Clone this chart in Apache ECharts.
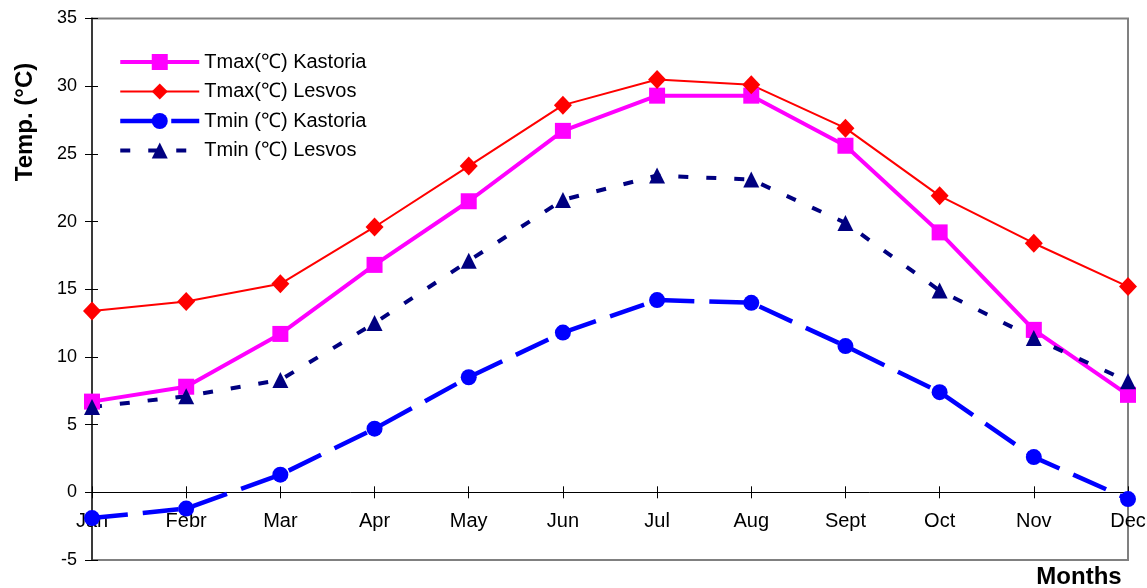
<!DOCTYPE html>
<html>
<head>
<meta charset="utf-8">
<script src="https://cdn.jsdelivr.net/npm/echarts@6/dist/echarts.min.js"></script>
<style>
html,body{margin:0;padding:0;background:#fff;}
#chart{width:1147px;height:588px;}
</style>
</head>
<body>
<div id="chart"></div>
<script>
var months = ['Jan','Febr','Mar','Apr','May','Jun','Jul','Aug','Sept','Oct','Nov','Dec'];
var tmaxKastoria = [6.7, 7.8, 11.7, 16.8, 21.5, 26.7, 29.3, 29.3, 25.6, 19.2, 12.0, 7.2];
var tmaxLesvos   = [13.4, 14.1, 15.4, 19.6, 24.1, 28.6, 30.5, 30.1, 26.9, 21.9, 18.4, 15.2];
var tminKastoria = [-1.9, -1.2, 1.3, 4.7, 8.5, 11.8, 14.2, 14.0, 10.8, 7.4, 2.6, -0.5];
var tminLesvos   = [6.3, 7.1, 8.3, 12.5, 17.1, 21.6, 23.4, 23.1, 19.9, 14.9, 11.4, 8.2];
var seriesNames = ['Tmax(\u2103) Kastoria', 'Tmax(\u2103) Lesvos', 'Tmin (\u2103) Kastoria', 'Tmin (\u2103) Lesvos'];
var yMin = -5, yMax = 35, yStep = 5;
var yTitle = 'Temp. (\u00B0C)';
var xTitle = 'Months';

var FONT = 'Liberation Sans, Arial, sans-serif';
var chart = echarts.init(document.getElementById('chart'), null, {renderer: 'canvas'});

var gridTop = 18.5, gridBottom = 28, H = 588;
var gridHeight = H - gridTop - gridBottom;
// x axis crosses the value axis at 0: shift it up from the grid bottom
var zeroOffset = -gridHeight * (0 - yMin) / (yMax - yMin);

var yAxisBase = {
  type: 'value', min: yMin, max: yMax, interval: yStep, position: 'left',
  splitLine: {show: false}
};
var xAxisBase = {
  type: 'category', data: months, boundaryGap: false, position: 'bottom', offset: zeroOffset,
  splitLine: {show: false}
};

var styles = [
  {color: '#FF00FF', width: 4, type: 'solid', symbol: 'rect', size: 16},
  {color: '#FF0000', width: 2, type: 'solid', symbol: 'diamond', size: [18, 19]},
  {color: '#0000FF', width: 4.5, type: [36, 15], symbol: 'circle', size: 16},
  {color: '#000080', width: 4, type: [10, 18], symbol: 'triangle', size: 16}
];
var values = [tmaxKastoria, tmaxLesvos, tminKastoria, tminLesvos];

chart.setOption({
  backgroundColor: '#ffffff',
  animation: false,
  grid: {left: 92, right: 19, top: gridTop, bottom: gridBottom, outerBoundsMode: 'none', containLabel: false,
    show: true, borderColor: '#808080', borderWidth: 2, backgroundColor: 'transparent'},
  legend: {
    left: 113, top: 47, orient: 'vertical', itemWidth: 79, itemHeight: 20, itemGap: 9.5,
    selectedMode: false,
    textStyle: {fontSize: 20, color: '#000', fontFamily: FONT},
    data: seriesNames.map(function (n, i) {
      return {name: n, lineStyle: {color: styles[i].color, width: styles[i].width, type: styles[i].type}};
    })
  },
  xAxis: [
    Object.assign({}, xAxisBase, {
      axisLine: {show: true, onZero: false, lineStyle: {color: '#000', width: 1}},
      axisTick: {show: true, inside: false, length: 6, lineStyle: {color: '#000', width: 1}},
      axisLabel: {show: true, interval: 0, margin: 19, fontSize: 20, color: '#000', fontFamily: FONT}
    }),
    Object.assign({}, xAxisBase, {
      axisLine: {show: false, onZero: false},
      axisTick: {show: true, inside: true, length: 6, lineStyle: {color: '#000', width: 1}},
      axisLabel: {show: false}
    })
  ],
  yAxis: [
    Object.assign({}, yAxisBase, {
      axisLine: {show: true, lineStyle: {color: '#3a3a3a', width: 2}},
      axisTick: {show: true, inside: false, length: 7, lineStyle: {color: '#000', width: 1}},
      axisLabel: {show: true, margin: 15, fontSize: 18, color: '#000', fontFamily: FONT}
    }),
    Object.assign({}, yAxisBase, {
      axisLine: {show: false},
      axisTick: {show: true, inside: true, length: 6, lineStyle: {color: '#000', width: 1}},
      axisLabel: {show: false}
    })
  ],
  graphic: [
    {type: 'text', x: 25, y: 122, rotation: Math.PI / 2,
      style: {text: yTitle, font: 'bold 24px ' + FONT, fill: '#000', textAlign: 'center', textVerticalAlign: 'middle', align: 'center', verticalAlign: 'middle'}},
    {type: 'text', x: 1079, y: 577,
      style: {text: xTitle, font: 'bold 24px ' + FONT, fill: '#000', textAlign: 'center', textVerticalAlign: 'middle', align: 'center', verticalAlign: 'middle'}}
  ],
  series: seriesNames.map(function (n, i) {
    var s = styles[i];
    return {name: n, type: 'line', data: values[i], xAxisIndex: 0, yAxisIndex: 0, clip: false,
      symbol: s.symbol, symbolSize: s.size,
      lineStyle: {color: s.color, width: s.width, type: s.type},
      itemStyle: {color: s.color}};
  })
});
</script>
</body>
</html>
